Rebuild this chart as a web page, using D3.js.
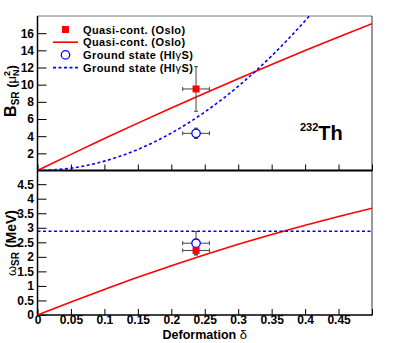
<!DOCTYPE html>
<html>
<head>
<meta charset="utf-8">
<script src="https://cdn.jsdelivr.net/npm/d3@7"></script>
<style>
  body { margin: 0; background: #fff; }
  svg { font-family: "Liberation Sans", Arial, sans-serif; font-weight: bold; }
  .tick text { font-size: 12px; font-weight: bold; fill: #000; }
</style>
</head>
<body>
<svg id="chart" width="415" height="343"></svg>
<script>
// curves
const deformation = [0, 0.05, 0.1, 0.15, 0.2, 0.25, 0.3, 0.35, 0.4, 0.45, 0.5];
const bOsloCurve = [0, 1.88, 3.72, 5.52, 7.28, 9.01, 10.7, 12.36, 13.98, 15.56, 17.1];
const omegaOsloCurve = [0, 0.45, 0.88, 1.3, 1.69, 2.07, 2.43, 2.77, 3.09, 3.39, 3.67];
const deformationGs = [0, 0.05, 0.1, 0.15, 0.2, 0.25, 0.3, 0.35, 0.4, 0.42];
const bGsCurve = [0, 0.27, 1.09, 2.45, 4.36, 6.81, 9.81, 13.35, 17.44, 19.2];
const deformationGsLevel = [0, 0.5];
const omegaGsLevel = [2.88, 2.88];

// measured points (Oslo, HIgS)
const pointDelta = [0.237, 0.237];
const pointDeltaErr = [0.02, 0.02];
const pointB = [9.5, 4.33];
const pointBErr = [2.6, 0.6];
const pointOmega = [2.22, 2.47];
const pointOmegaErr = [0.15, 0.4];

// ticks
const xTicks = [0, 0.05, 0.1, 0.15, 0.2, 0.25, 0.3, 0.35, 0.4, 0.45];
const bTicks = [2, 4, 6, 8, 10, 12, 14, 16];
const omegaTicks = [0, 0.5, 1, 1.5, 2, 2.5, 3, 3.5, 4, 4.5];

const legendLabels = ["Quasi-cont. (Oslo)", "Quasi-cont. (Oslo)", "Ground state (HI", "Ground state (HI"];

const left = 37.5, right = 372;
const topY = 16, midY = 170.5, botY = 315;
const RED = "#ff0000", BLUE = "#0000ff", ERR = "#444";

const svg = d3.select("#chart");

let x = d3.scaleLinear().domain([0, 0.5]).range([left, right]);
let yB = d3.scaleLinear().domain([0, 18]).range([midY, topY]);
let yW = d3.scaleLinear().domain([0, 4.97]).range([botY, midY]);

// clip regions
let defs = svg.append("defs");
defs.append("clipPath").attr("id", "clipTop").append("rect")
    .attr("x", left).attr("y", topY).attr("width", right - left).attr("height", midY - topY);
defs.append("clipPath").attr("id", "clipBot").append("rect")
    .attr("x", left).attr("y", midY).attr("width", right - left).attr("height", botY - midY);

// frames
svg.append("line").attr("x1", left).attr("x2", right).attr("y1", topY).attr("y2", topY)
    .attr("stroke", "#777").attr("stroke-width", 1);
svg.append("line").attr("x1", right).attr("x2", right).attr("y1", topY).attr("y2", botY)
    .attr("stroke", "#333").attr("stroke-width", 1);

function minorRange(a, b, step) {
    return d3.range(Math.round((b - a) / step) + 1).map(i => +(a + i * step).toFixed(4));
}

// x axes (ticks pointing up)
function drawXAxis(yPos, labels) {
    let g = svg.append("g").attr("transform", "translate(0," + yPos + ")");
    g.call(d3.axisBottom(x).tickValues(minorRange(0, 0.5, 0.01)).tickSize(-3).tickFormat(""));
    g.call(d3.axisBottom(x).tickValues(xTicks.concat([0.5])).tickSize(-6).tickPadding(0.5)
        .tickFormat(d => (labels && d < 0.5) ? String(d) : ""));
    g.selectAll(".domain").remove();
    g.selectAll("line").attr("stroke", "#000");
}
drawXAxis(midY, false);
drawXAxis(botY, true);

// y axes (ticks pointing right)
function drawYAxis(scale, major, minor, labelFn) {
    let g = svg.append("g").attr("transform", "translate(" + left + ",0)");
    g.call(d3.axisLeft(scale).tickValues(minor).tickSize(-5).tickFormat(""));
    g.call(d3.axisLeft(scale).tickValues(major).tickSize(-9).tickPadding(3.5).tickFormat(labelFn));
    g.selectAll(".domain").remove();
    g.selectAll("line").attr("stroke", "#000");
}
drawYAxis(yB, bTicks, minorRange(0, 17.6, 0.4), d => String(d));
drawYAxis(yW, omegaTicks, minorRange(0, 4.9, 0.1), d => String(d));

// axis lines
svg.append("line").attr("x1", left).attr("x2", left).attr("y1", topY).attr("y2", botY)
    .attr("stroke", "#000").attr("stroke-width", 1.5);
svg.append("line").attr("x1", left).attr("x2", right + 0.5).attr("y1", midY).attr("y2", midY)
    .attr("stroke", "#000").attr("stroke-width", 2);
svg.append("line").attr("x1", left).attr("x2", right + 0.5).attr("y1", botY).attr("y2", botY)
    .attr("stroke", "#000").attr("stroke-width", 1.5);

// curves
let topG = svg.append("g").attr("clip-path", "url(#clipTop)");
let botG = svg.append("g").attr("clip-path", "url(#clipBot)");

function curve(g, xs, ys, yScale, color, dashed) {
    let line = d3.line().x((d, i) => x(xs[i])).y(d => yScale(d)).curve(d3.curveMonotoneX);
    g.append("path").datum(ys).attr("d", line)
        .attr("fill", "none").attr("stroke", color).attr("stroke-width", 1.6)
        .attr("stroke-dasharray", dashed ? "3,2.5" : null);
}
curve(topG, deformation, bOsloCurve, yB, RED, false);
curve(topG, deformationGs, bGsCurve, yB, BLUE, true);
curve(botG, deformation, omegaOsloCurve, yW, RED, false);
curve(botG, deformationGsLevel, omegaGsLevel, yW, BLUE, true);

// error bars and markers
function errorBar(g, xv, xe, yv, ye, yScale) {
    let cx = x(xv), cy = yScale(yv);
    let x0 = x(xv - xe), x1 = x(xv + xe), y0 = yScale(yv - ye), y1 = yScale(yv + ye);
    let eg = g.append("g").attr("stroke", ERR).attr("stroke-width", 1);
    eg.append("line").attr("x1", x0).attr("x2", x1).attr("y1", cy).attr("y2", cy);
    eg.append("line").attr("x1", cx).attr("x2", cx).attr("y1", y0).attr("y2", y1);
    eg.append("line").attr("x1", x0).attr("x2", x0).attr("y1", cy - 2).attr("y2", cy + 2);
    eg.append("line").attr("x1", x1).attr("x2", x1).attr("y1", cy - 2).attr("y2", cy + 2);
    eg.append("line").attr("x1", cx - 2).attr("x2", cx + 2).attr("y1", y0).attr("y2", y0);
    eg.append("line").attr("x1", cx - 2).attr("x2", cx + 2).attr("y1", y1).attr("y2", y1);
}
function square(g, cx, cy) {
    g.append("rect").attr("x", cx - 3.5).attr("y", cy - 3.5).attr("width", 7).attr("height", 7)
        .attr("fill", RED);
}
function circle(g, cx, cy) {
    g.append("circle").attr("cx", cx).attr("cy", cy).attr("r", 4.2)
        .attr("fill", "#fff").attr("stroke", BLUE).attr("stroke-width", 1.3);
}
errorBar(svg, pointDelta[1], pointDeltaErr[1], pointB[1], pointBErr[1], yB);
errorBar(svg, pointDelta[0], pointDeltaErr[0], pointB[0], pointBErr[0], yB);
circle(svg, x(pointDelta[1]), yB(pointB[1]));
square(svg, x(pointDelta[0]), yB(pointB[0]));
errorBar(svg, pointDelta[1], pointDeltaErr[1], pointOmega[1], pointOmegaErr[1], yW);
errorBar(svg, pointDelta[0], pointDeltaErr[0], pointOmega[0], pointOmegaErr[0], yW);
circle(svg, x(pointDelta[1]), yW(pointOmega[1]));
square(svg, x(pointDelta[0]), yW(pointOmega[0]));

// legend
let rowY = [29.5, 42.2, 54.9, 67.6];
let leg = svg.append("g");
square(leg, 65.5, rowY[0]);
leg.append("line").attr("x1", 53).attr("x2", 78).attr("y1", rowY[1]).attr("y2", rowY[1])
    .attr("stroke", RED).attr("stroke-width", 1.6);
circle(leg, 65.5, rowY[2]);
leg.append("line").attr("x1", 53).attr("x2", 78).attr("y1", rowY[3]).attr("y2", rowY[3])
    .attr("stroke", BLUE).attr("stroke-width", 1.6).attr("stroke-dasharray", "3,2.5");
legendLabels.forEach(function(t, i) {
    let txt = leg.append("text").attr("x", 83).attr("y", rowY[i] + 4)
        .attr("font-size", 11).attr("letter-spacing", 0.4).attr("font-weight", "bold").text(t);
    if (i >= 2) {
        txt.append("tspan").attr("font-weight", "normal").text("\u03b3");
        txt.append("tspan").text("S)");
    }
});

// nucleus label
let th = svg.append("text").attr("x", 300).attr("y", 140).attr("font-weight", "bold");
th.append("tspan").attr("font-size", 11).attr("dy", -9).text("232");
th.append("tspan").attr("font-size", 20).attr("dy", 9).text("Th");

// axis titles
let tB = svg.append("text").attr("transform", "translate(16,91) rotate(-90)")
    .attr("text-anchor", "middle").attr("font-weight", "bold");
tB.append("tspan").attr("font-size", 16).text("B");
tB.append("tspan").attr("font-size", 10).attr("dy", 3).text("SR");
tB.append("tspan").attr("font-size", 13).attr("dy", -3).text(" (");
tB.append("tspan").attr("font-size", 13).attr("font-weight", "normal").text("\u03bc");
tB.append("tspan").attr("font-size", 9).attr("dy", -6).text("2");
tB.append("tspan").attr("font-size", 9).attr("dx", -5).attr("dy", 9).text("N");
tB.append("tspan").attr("font-size", 13).attr("dy", -3).text(")");

let tW = svg.append("text").attr("transform", "translate(16,243) rotate(-90)")
    .attr("text-anchor", "middle").attr("font-weight", "bold");
tW.append("tspan").attr("font-size", 13).attr("font-weight", "normal").text("\u03c9");
tW.append("tspan").attr("font-size", 10).attr("dy", 3).text("SR");
tW.append("tspan").attr("font-size", 14).attr("dy", -3).text(" (MeV)");

let tX = svg.append("text").attr("x", (left + right) / 2).attr("y", 338.5)
    .attr("text-anchor", "middle").attr("font-size", 12.5).attr("font-weight", "bold");
tX.append("tspan").text("Deformation ");
tX.append("tspan").attr("font-weight", "normal").attr("font-size", 13).text("\u03b4");
</script>
</body>
</html>
